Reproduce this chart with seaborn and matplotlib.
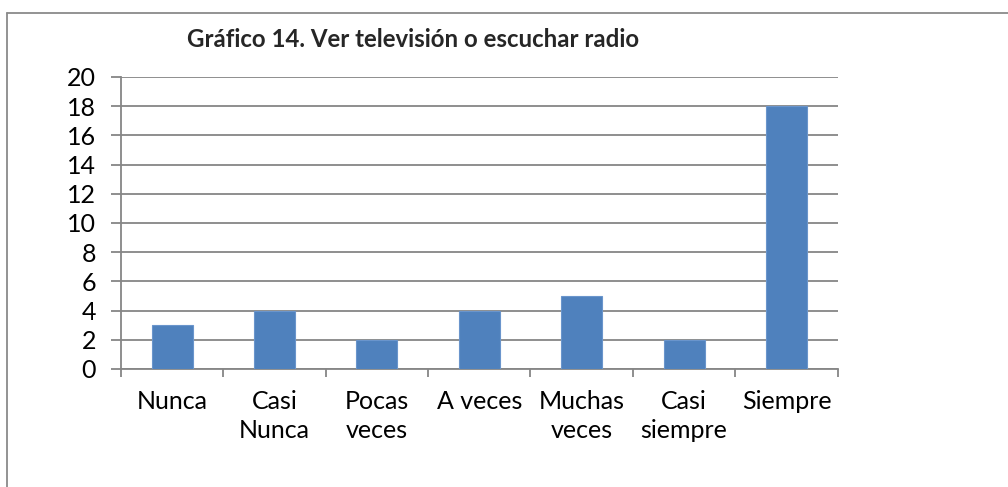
import matplotlib
matplotlib.use("Agg")
import matplotlib.pyplot as plt
import numpy as np
import pandas as pd
import seaborn as sns
from matplotlib.lines import Line2D

categorias = ["Nunca", "Casi\nNunca", "Pocas\nveces", "A veces", "Muchas\nveces", "Casi\nsiempre", "Siempre"]
valores = [3, 4, 2, 4, 5, 2, 18]
titulo = "Gráfico 14. Ver televisión o escuchar radio"

sns.set_theme(style="white")
plt.rcParams["font.family"] = ["Lato", "DejaVu Sans"]

df = pd.DataFrame({"categoria": categorias, "valor": valores})

fig = plt.figure(figsize=(10.08, 4.87), dpi=100)
ax = fig.add_axes([0.12, 0.2423, 0.711, 0.5996])

grid_color = "#868686"
sns.barplot(data=df, x="categoria", y="valor", color="#4F81BD", width=0.4,
            saturation=1, ax=ax, zorder=3, edgecolor="#6A95CC", linewidth=0.8)

ax.set_ylim(0, 20)
ax.set_xlim(-0.5, len(categorias) - 0.5)
ax.set_yticks(np.arange(0, 21, 2))
ax.yaxis.grid(True, color=grid_color, linewidth=1.3)
ax.set_axisbelow(True)

for side in ["top", "right"]:
    ax.spines[side].set_visible(False)
for side in ["left", "bottom"]:
    ax.spines[side].set_color(grid_color)
    ax.spines[side].set_linewidth(1.3)

ax.set_xlabel("")
ax.set_ylabel("")
ax.tick_params(axis="y", length=7, width=1.3, color=grid_color, pad=11,
               labelsize=18, labelcolor="black", left=True)
ax.tick_params(axis="x", which="major", length=0, pad=15,
               labelsize=18, labelcolor="black")
ax.set_xticks(np.arange(-0.5, len(categorias), 1), minor=True)
ax.tick_params(axis="x", which="minor", length=6, width=1.3, color=grid_color, bottom=True)
for lab in ax.get_xticklabels():
    lab.set_linespacing(1.35)
    lab.set_verticalalignment("top")

fig.text(0.41, 0.918, titulo, ha="center", va="center", fontsize=17.3, fontweight="bold")

# marco del gráfico
fig.add_artist(Line2D([0.0069, 0.0069], [0.0, 0.973], color="#8a8a8a", linewidth=1.3,
                      transform=fig.transFigure))
fig.add_artist(Line2D([0.0069, 1.0], [0.973, 0.973], color="#8a8a8a", linewidth=1.3,
                      transform=fig.transFigure))

fig.savefig("out.png", dpi=100, facecolor="white")
